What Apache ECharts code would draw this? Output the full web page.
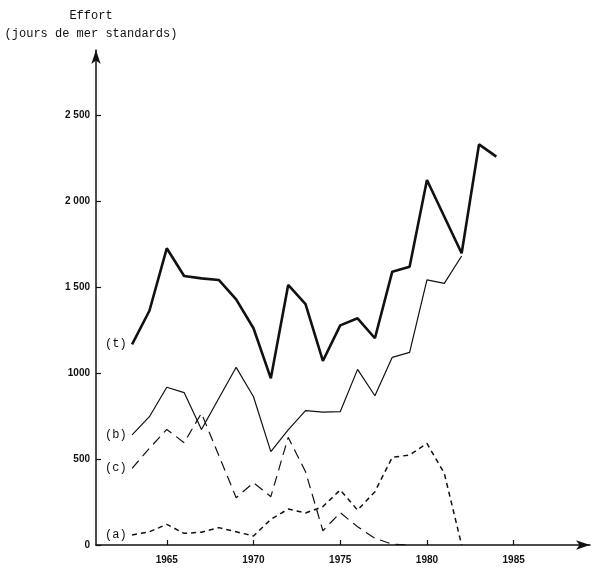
<!DOCTYPE html>
<html><head><meta charset="utf-8">
<script src="https://cdn.jsdelivr.net/npm/echarts@6/dist/echarts.min.js"></script>
<style>html,body{margin:0;background:#fff}#c{width:600px;height:577px}</style>
</head><body><div id="c"></div>
<script>
// Data
var years = [1963,1964,1965,1966,1967,1968,1969,1970,1971,1972,1973,1974,1975,1976,1977,1978,1979,1980,1981,1982,1983,1984];
var seriesT = [1167,1362,1725,1564,1550,1541,1428,1260,969,1512,1401,1070,1277,1318,1202,1589,1618,2122,null,1696,2329,2258];
var seriesB = [640,746,917,886,672,null,1033,862,543,669,781,772,775,1021,868,1091,1120,1541,1521,1680,null,null];
var seriesC = [446,562,672,595,766,null,275,362,281,626,426,83,188,106,39,5,0,null,null,null,null,null];
var seriesA = [58,77,120,68,74,101,77,52,149,209,186,223,320,203,310,510,523,591,417,0,null,null];
var seriesNames = ['(t)','(b)','(c)','(a)'];
var xTickValues = [1965,1970,1975,1980,1985];
var xTickLabels = ['1965','1970','1975','1980','1985'];
var yTickValues = [0,500,1000,1500,2000,2500];
var yTickLabels = ['0','500','1000','1 500','2 000','2 500'];
var yTitle = 'Effort\n(jours de mer standards)';

function pairs(vals){ return years.map(function(y,i){ return [y, vals[i]]; }); }

var chart = echarts.init(document.getElementById('c'), null, {renderer:'canvas'});
var ink = '#111';

function mkSeries(name, vals, width, dash){
  return {
    type:'line', name:name, data:pairs(vals), connectNulls:true,
    symbol:'circle', symbolSize:1, showSymbol:true,
    itemStyle:{color:'rgba(0,0,0,0)'},
    lineStyle:{color:ink, width:width, type:dash},
    label:{show:true, position:'left', distance:5, color:ink,
      fontFamily:'Liberation Mono', fontSize:12,
      formatter:function(p){ return p.dataIndex===0 ? name : ''; }},
    emphasis:{disabled:true}, animation:false, silent:true
  };
}

chart.setOption({
  backgroundColor:'#fff',
  animation:false,
  grid:{left:96, right:10, top:50, bottom:32, containLabel:false},
  xAxis:{
    type:'value', min:1960.92, max:1989.4,
    axisLine:{show:true, lineStyle:{color:ink, width:1.5}, symbol:['none','arrow'], symbolSize:[7,14]},
    axisTick:{show:true, inside:true, length:5, lineStyle:{color:ink, width:1.2}, customValues:xTickValues},
    axisLabel:{show:true, margin:10, customValues:xTickValues,
      formatter:function(v){ var i=xTickValues.indexOf(v); return i>=0?xTickLabels[i]:''; },
      fontFamily:'Liberation Sans', fontWeight:'bold', fontSize:10, color:ink},
    splitLine:{show:false}
  },
  yAxis:{
    type:'value', min:0, max:2878,
    name:yTitle, nameLocation:'end', nameGap:7,
    nameTextStyle:{fontFamily:'Liberation Mono', fontSize:12, lineHeight:18, color:ink, align:'center', padding:[0,10,0,0]},
    axisLine:{show:true, lineStyle:{color:ink, width:1.5}, symbol:['none','arrow'], symbolSize:[7,14]},
    axisTick:{show:true, inside:true, length:5, lineStyle:{color:ink, width:1.2}, customValues:yTickValues},
    axisLabel:{show:true, margin:6, customValues:yTickValues,
      formatter:function(v){ var i=yTickValues.indexOf(v); return i>=0?yTickLabels[i]:''; },
      fontFamily:'Liberation Sans', fontWeight:'bold', fontSize:10, color:ink},
    splitLine:{show:false}
  },
  series:[
    mkSeries(seriesNames[0], seriesT, 2.6, 'solid'),
    mkSeries(seriesNames[1], seriesB, 1.2, 'solid'),
    mkSeries(seriesNames[2], seriesC, 1.2, [10,6]),
    mkSeries(seriesNames[3], seriesA, 1.5, [5,4])
  ]
});
</script></body></html>
